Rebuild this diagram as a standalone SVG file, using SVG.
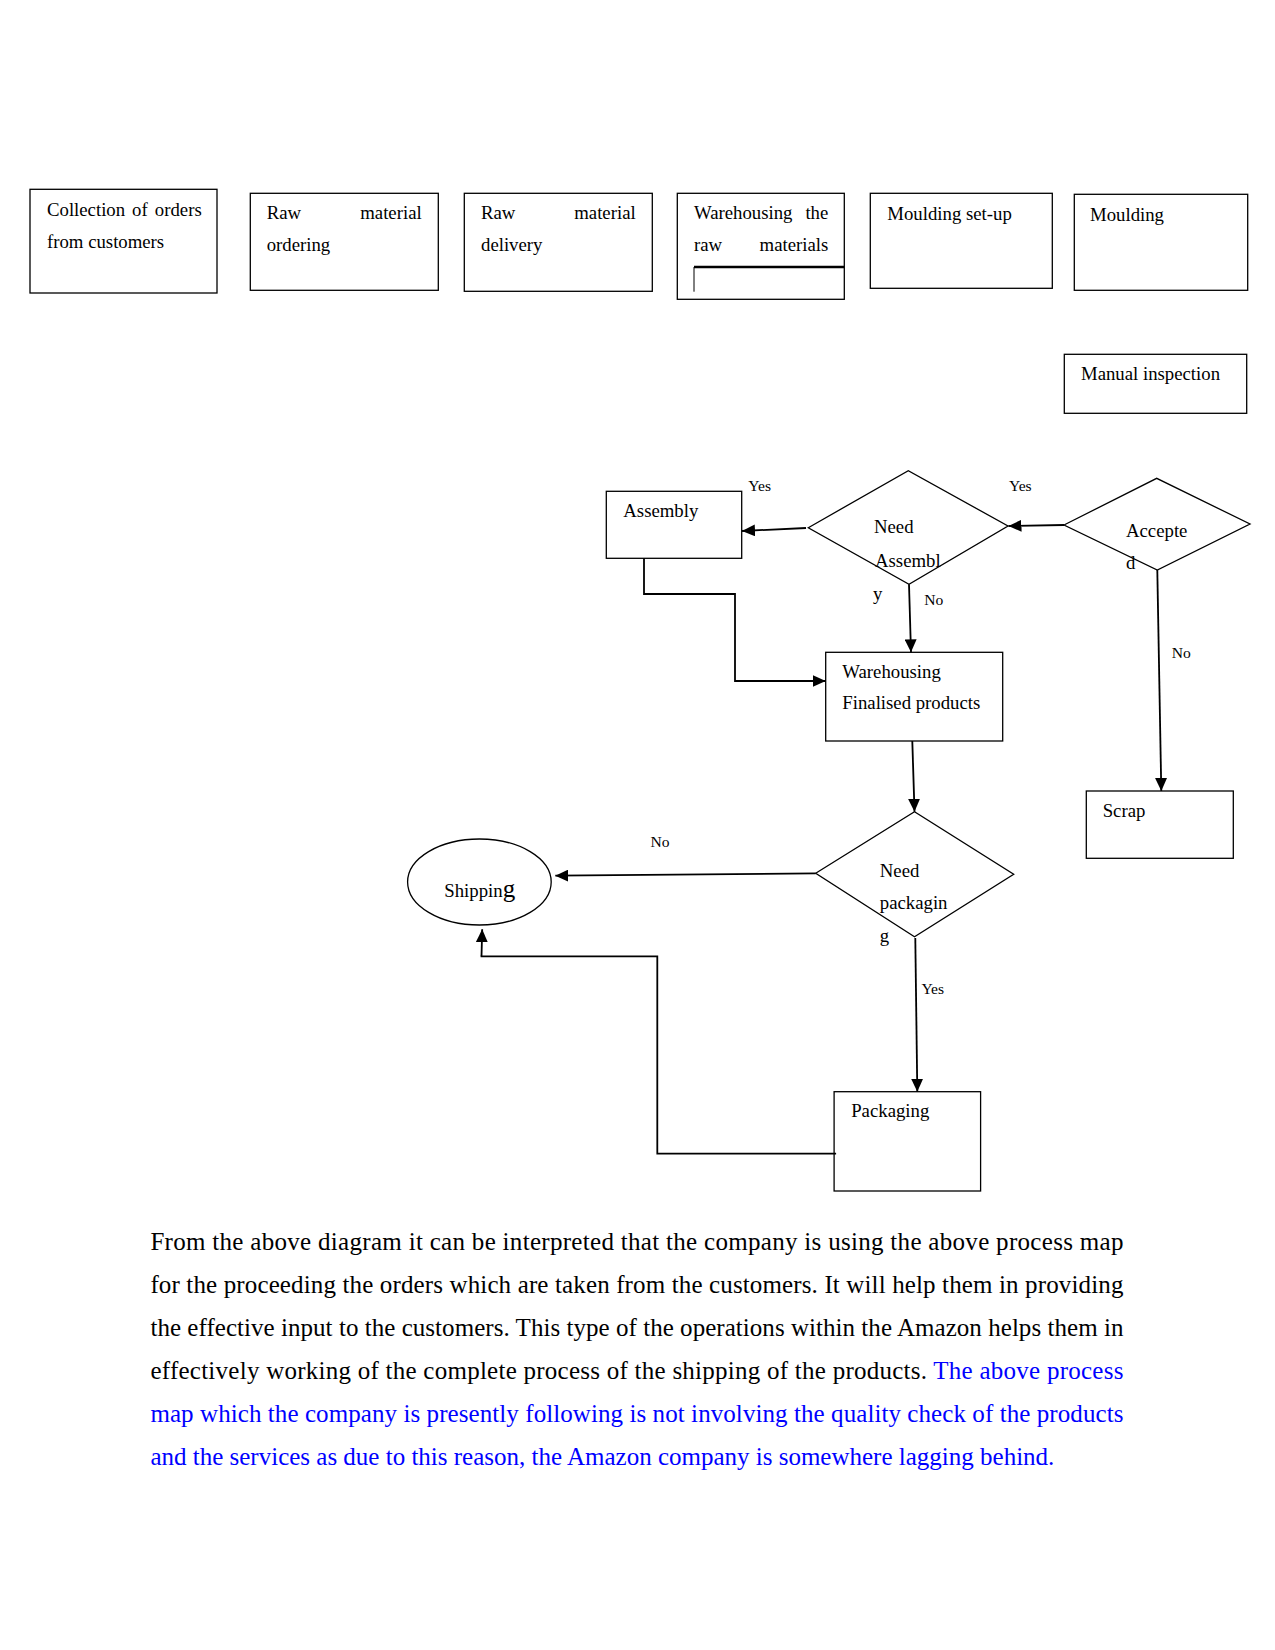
<svg xmlns="http://www.w3.org/2000/svg" width="1275" height="1650" viewBox="0 0 1275 1650">
<style>
text{font-family:"Liberation Serif","Times New Roman",serif;fill:#000}
.t{font-size:18.75px}
.l{font-size:15.6px}
.b{font-size:25px}
.blue{fill:#0000ff}
.box{fill:#fff;stroke:#000;stroke-width:1.3}
.c{fill:none;stroke:#000;stroke-width:1.8}
</style>
<defs>
<marker id="ah" markerUnits="userSpaceOnUse" markerWidth="14" markerHeight="12" refX="13" refY="6" orient="auto">
<path d="M0,0 L13,6 L0,12 Z" fill="#000"/>
</marker>
</defs>
<rect width="1275" height="1650" fill="#fff"/>

<g id="collection">
<rect class="box" x="30" y="189.3" width="187" height="103.7"/>
<text class="t" x="47" y="216">Collection</text>
<text class="t" x="132" y="216">of</text>
<text class="t" x="201.7" y="216" text-anchor="end">orders</text>
<text class="t" x="47" y="248">from customers</text>
</g>
<g id="raw-ordering">
<rect class="box" x="250.3" y="193.3" width="188" height="97"/>
<text class="t" x="266.7" y="219.3">Raw</text>
<text class="t" x="421.7" y="219.3" text-anchor="end">material</text>
<text class="t" x="266.7" y="251">ordering</text>
</g>
<g id="raw-delivery">
<rect class="box" x="464.3" y="193.3" width="188" height="98"/>
<text class="t" x="481" y="219.3">Raw</text>
<text class="t" x="635.7" y="219.3" text-anchor="end">material</text>
<text class="t" x="481" y="251">delivery</text>
</g>
<g id="warehousing-raw">
<rect class="box" x="677.3" y="193.3" width="167" height="106"/>
<text class="t" x="694" y="219.3">Warehousing</text>
<text class="t" x="828.3" y="219.3" text-anchor="end">the</text>
<text class="t" x="694" y="251">raw</text>
<text class="t" x="828.3" y="251" text-anchor="end">materials</text>
<path d="M694,267 H844.3" stroke="#000" stroke-width="2.4" fill="none"/>
<path d="M694,267 V291.7" stroke="#000" stroke-width="1" fill="none"/>
</g>
<g id="moulding-setup">
<rect class="box" x="870.3" y="193.3" width="182" height="95"/>
<text class="t" x="887.3" y="220">Moulding set-up</text>
</g>
<g id="moulding">
<rect class="box" x="1074.3" y="194.3" width="173.4" height="96"/>
<text class="t" x="1090" y="221">Moulding</text>
</g>
<g id="manual-inspection">
<rect class="box" x="1064.3" y="354.3" width="182.4" height="59"/>
<text class="t" x="1081" y="380">Manual inspection</text>
</g>
<g id="assembly">
<rect class="box" x="606.3" y="491.3" width="135.4" height="67"/>
<text class="t" x="623.3" y="516.7">Assembly</text>
</g>
<g id="need-assembly">
<path class="box" d="M808.3,527.7 L908.3,470.7 L1008,526 L909,584.3 Z"/>
<text class="t" x="874" y="533.3">Need</text>
<text class="t" x="875" y="566.7">Assembl</text>
<text class="t" x="873" y="600">y</text>
</g>
<g id="accepted">
<path class="box" d="M1064,525 L1156.7,478.3 L1250,524 L1157.3,570 Z"/>
<text class="t" x="1126" y="537.3">Accepte</text>
<text class="t" x="1126" y="569">d</text>
</g>
<g id="warehousing-finalised">
<rect class="box" x="825.7" y="652.3" width="177" height="88.7"/>
<text class="t" x="842.3" y="678.3">Warehousing</text>
<text class="t" x="842.3" y="709.3">Finalised products</text>
</g>
<g id="scrap">
<rect class="box" x="1086.3" y="791" width="147" height="67.3"/>
<text class="t" x="1102.7" y="816.7">Scrap</text>
</g>
<g id="need-packaging">
<path class="box" d="M815.7,873.3 L914.5,811.7 L1013.7,874.3 L914.5,936.7 Z"/>
<text class="t" x="879.8" y="877.3">Need</text>
<text class="t" x="879.8" y="909.3">packagin</text>
<text class="t" x="879.8" y="941.7">g</text>
</g>
<g id="shipping">
<ellipse class="box" cx="479.4" cy="882" rx="71.8" ry="43"/>
<text class="t" x="444.3" y="896.7">Shippin<tspan font-size="25px">g</tspan></text>
</g>
<g id="packaging">
<rect class="box" x="834.1" y="1091.7" width="146.5" height="99.3"/>
<text class="t" x="851.2" y="1116.7">Packaging</text>
</g>

<g id="connectors">
<path class="c" d="M806,528 L742,531" marker-end="url(#ah)"/>
<path class="c" d="M1064,525 L1008.5,526" marker-end="url(#ah)"/>
<path class="c" d="M909,584.3 L911,652.3" marker-end="url(#ah)"/>
<path class="c" d="M644,558.3 V594 H735 V681 H825.7" marker-end="url(#ah)"/>
<path class="c" d="M1157.3,570 L1161.3,791" marker-end="url(#ah)"/>
<path class="c" d="M912.3,741 L914.5,811.7" marker-end="url(#ah)"/>
<path class="c" d="M815.7,873.3 L555.3,875.7" marker-end="url(#ah)"/>
<path class="c" d="M915.3,938 L917.3,1091.7" marker-end="url(#ah)"/>
<path class="c" d="M836.1,1153.7 H657.3 V956.3 H480.6"/>
<path class="c" d="M481.5,956.3 L482.2,929.3" marker-end="url(#ah)"/>
<text class="l" x="748.3" y="491">Yes</text>
<text class="l" x="1009" y="491">Yes</text>
<text class="l" x="924.3" y="605">No</text>
<text class="l" x="1171.7" y="658.3">No</text>
<text class="l" x="650.4" y="846.7">No</text>
<text class="l" x="921.4" y="994">Yes</text>
</g>

<g id="paragraph">
<text class="b" x="150.4" y="1250" textLength="973" lengthAdjust="spacing">From the above diagram it can be interpreted that the company is using the above process map</text>
<text class="b" x="150.4" y="1293.3" textLength="973" lengthAdjust="spacing">for the proceeding the orders which are taken from the customers. It will help them in providing</text>
<text class="b" x="150.4" y="1336" textLength="973" lengthAdjust="spacing">the effective input to the customers. This type of the operations within the Amazon helps them in</text>
<text class="b" x="150.4" y="1379.3" textLength="973" lengthAdjust="spacing">effectively working of the complete process of the shipping of the products. <tspan class="blue">The above process</tspan></text>
<text class="b blue" x="150.4" y="1422.3" textLength="973" lengthAdjust="spacing">map which the company is presently following is not involving the quality check of the products</text>
<text class="b blue" x="150.4" y="1465">and the services as due to this reason, the Amazon company is somewhere lagging behind.</text>
</g>
</svg>
